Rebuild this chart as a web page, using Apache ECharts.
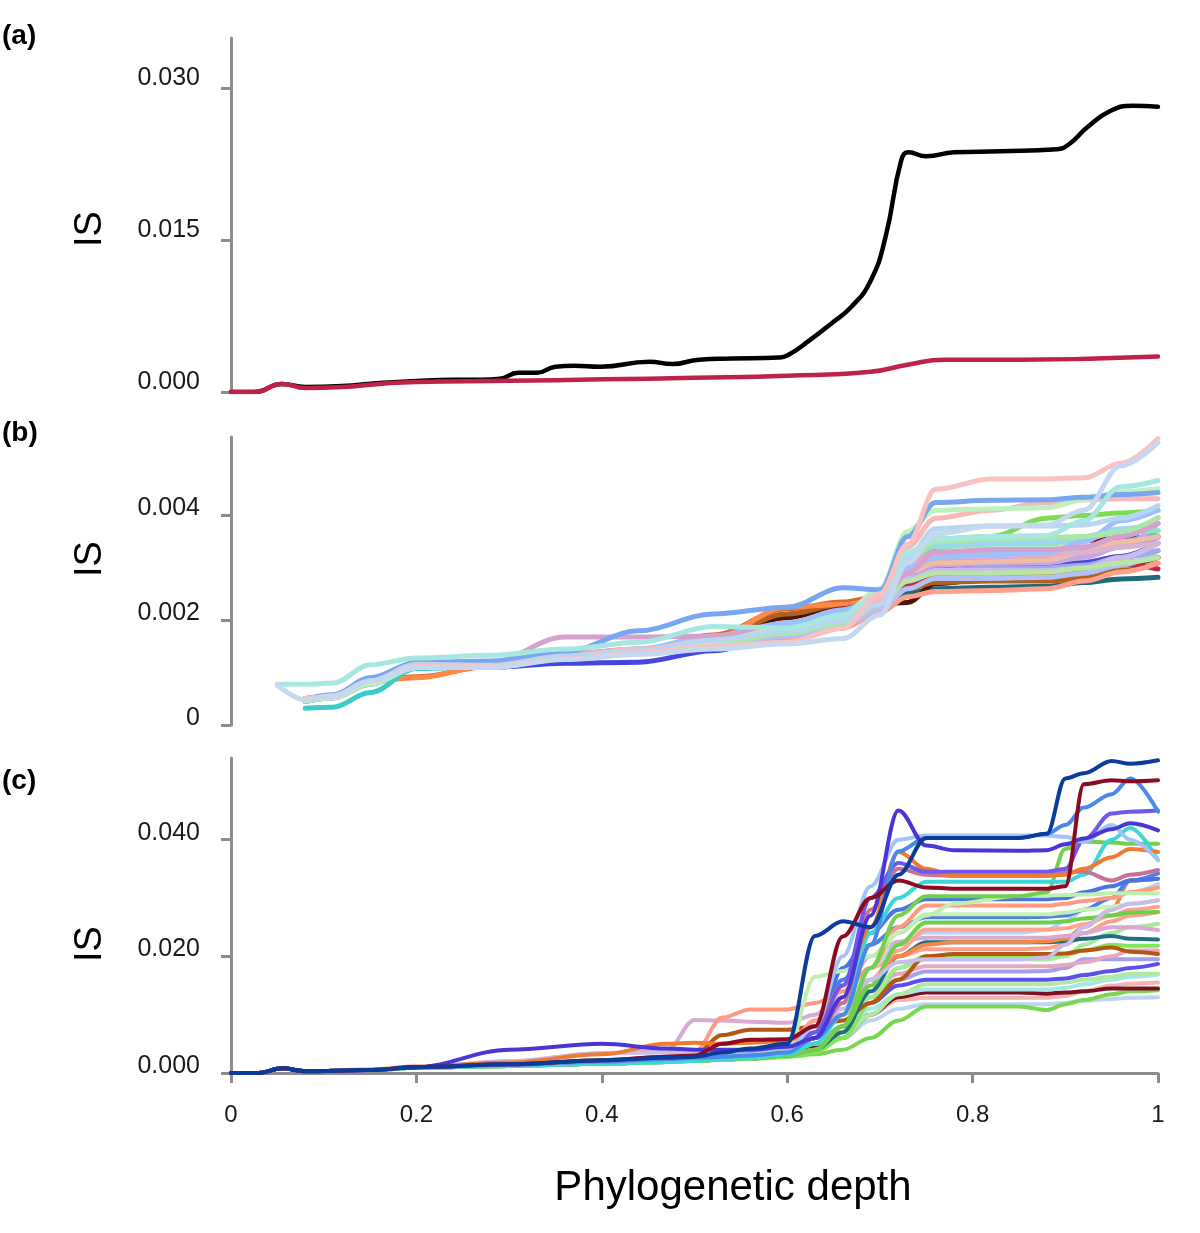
<!DOCTYPE html>
<html><head><meta charset="utf-8">
<script src="https://cdn.jsdelivr.net/npm/echarts@6/dist/echarts.min.js"></script>
<style>html,body{margin:0;padding:0;background:#fff}#chart{width:1200px;height:1233px}</style>
</head><body><div id="chart"></div>
<script>
// ---------------- Panel (a) ----------------
const aBlackX = [0,0.025,0.055,0.08,0.12,0.16,0.2,0.24,0.27,0.29,0.31,0.33,0.35,0.37,0.398,0.4515,0.476,0.505,0.54,0.591,0.600,0.624,0.648,0.669,0.69,0.706,0.723,0.731,0.75,0.78,0.83,0.891,0.904,0.924,0.949,0.973,1.0];
const aBlackY = [0,0,0.0008,0.0005,0.0006,0.0009,0.0011,0.0012,0.0012,0.0013,0.0019,0.0019,0.0025,0.0026,0.0025,0.0030,0.00276,0.0032,0.0033,0.0034,0.0036,0.0051,0.0068,0.0084,0.0110,0.0153,0.0229,0.0237,0.0233,0.0237,0.0238,0.0240,0.0245,0.0262,0.0278,0.0283,0.0282];
const aRedX = [0,0.025,0.055,0.08,0.12,0.16,0.2,0.3,0.4,0.5,0.6,0.69,0.73,0.77,0.85,1.0];
const aRedY = [0,0,0.0008,0.0004,0.0005,0.0008,0.001,0.0011,0.00125,0.0014,0.0016,0.002,0.0027,0.0032,0.0032,0.0035];
const aTicks = [0, 0.015, 0.030];

// ---------------- Panel (b) (values in units of 0.001) ----------------
const bX = [0.05,0.08,0.11,0.15,0.2,0.28,0.36,0.44,0.52,0.6,0.66,0.7,0.73,0.76,0.82,0.88,0.92,0.96,1.0];
const bTicks = [0, 0.002, 0.004];
const bTeal        = ['-',0.50,0.55,0.82,1.14,1.12,1.33,1.42,1.62,1.88,2.12,2.30,2.52,2.60,2.63,2.65,2.72,2.79,2.82];
const bDarkBrown   = ['-',0.50,0.55,0.82,1.14,1.12,1.35,1.44,1.66,2.05,2.28,2.32,2.34,2.70,2.80,2.82,2.90,3.05,3.20];
const bBrown       = ['-',0.50,0.55,0.82,1.14,1.12,1.33,1.42,1.64,2.12,2.30,2.42,2.60,2.72,2.75,2.75,2.80,2.95,3.09];
const bOrangeBrown = ['-',0.50,0.55,0.84,0.92,1.12,1.33,1.42,1.72,2.22,2.35,2.46,2.70,2.85,2.90,2.90,3.00,3.10,3.20];
const bOrange      = ['-',0.50,0.55,0.84,0.90,1.14,1.35,1.44,1.66,2.25,2.30,2.40,2.75,3.00,3.05,3.05,3.10,3.22,3.33];
const bDarkRed     = ['-',0.50,0.55,0.82,1.14,1.12,1.33,1.42,1.62,1.92,2.22,2.40,2.90,3.40,3.50,3.52,3.52,3.56,3.60];
const bCrimson     = ['-',0.50,0.55,0.82,1.14,1.12,1.33,1.42,1.62,1.88,2.10,2.35,2.70,2.90,2.92,2.95,3.00,3.08,2.98];
const bBlueDark    = ['-',0.45,0.52,0.80,1.10,1.10,1.18,1.20,1.42,1.80,2.05,2.30,2.80,3.00,3.01,3.05,3.10,3.22,3.47];
const bTealBright  = ['-',0.32,0.34,0.62,1.08,1.12,1.30,1.40,1.58,1.82,2.05,2.35,3.00,3.30,3.30,3.32,3.36,3.50,3.71];
const bGreen       = ['-',0.48,0.55,0.84,1.14,1.12,1.30,1.40,1.60,1.90,2.15,2.40,3.20,3.55,3.60,3.95,4.00,4.05,4.10];
const bSalmon      = ['-',0.48,0.54,0.80,1.12,1.12,1.30,1.40,1.52,1.62,1.85,2.15,2.45,2.55,2.57,2.60,2.75,2.92,3.09];
const bLavender    = ['-',0.48,0.54,0.80,1.12,1.10,1.30,1.40,1.58,1.80,2.00,2.35,2.95,3.15,3.20,3.20,3.25,3.40,3.58];
const bPeriwinkle  = ['-',0.46,0.52,0.78,1.10,1.10,1.28,1.38,1.55,1.70,1.90,2.20,2.60,2.80,2.80,2.82,2.90,3.05,3.33];
const bSoftIndigo  = ['-',0.46,0.52,0.78,1.10,1.10,1.27,1.36,1.55,1.78,2.00,2.30,2.75,2.95,3.00,3.00,3.05,3.20,3.33];
const bLightPurple = ['-',0.50,0.55,0.84,1.16,1.14,1.33,1.44,1.65,1.90,2.10,2.35,2.90,3.05,3.09,3.10,3.20,3.40,3.85];
const bLilac       = ['-',0.48,0.54,0.80,1.12,1.12,1.32,1.40,1.60,1.78,1.95,2.25,2.80,2.95,2.95,2.95,3.00,3.20,3.47];
const bPeach       = ['-',0.48,0.54,0.82,1.12,1.14,1.32,1.42,1.60,1.75,1.95,2.30,2.90,3.10,3.12,3.15,3.30,3.50,3.60];
const bDustyPink   = ['-',0.50,0.55,0.84,1.16,1.14,1.32,1.42,1.60,1.80,2.00,2.40,3.00,3.20,3.22,3.25,3.30,3.40,3.47];
const bRose        = ['-',0.50,0.55,0.84,1.16,1.18,1.36,1.45,1.62,1.82,2.05,2.40,3.10,3.30,3.33,3.35,3.40,3.60,3.96];
const bMint        = ['-',0.48,0.54,0.82,1.14,1.12,1.30,1.42,1.62,1.90,2.15,2.50,3.20,3.40,3.45,3.45,3.55,3.70,3.71];
const bLightGreen3 = ['-',0.48,0.54,0.82,1.14,1.12,1.30,1.40,1.60,1.85,2.05,2.30,2.75,2.90,2.90,2.92,3.00,3.10,3.20];
const bLightSky    = ['-',0.48,0.54,0.82,1.14,1.12,1.30,1.42,1.60,1.85,2.10,2.50,3.30,3.45,3.47,3.50,3.60,3.75,3.85];
const bSky         = ['-',0.50,0.55,0.84,1.16,1.14,1.32,1.45,1.70,1.95,2.20,2.45,3.00,3.20,3.25,3.30,3.50,3.90,4.10];
const bLightGreen2 = ['-',0.46,0.52,0.78,1.10,1.10,1.27,1.36,1.55,1.75,1.95,2.30,3.20,3.50,3.55,3.58,3.60,3.70,3.96];
const bMauve       = ['-',0.50,0.55,0.84,1.16,1.20,1.68,1.68,1.70,1.85,2.05,2.30,2.90,3.30,3.35,3.35,3.40,3.60,3.85];
const bPink2       = ['-',0.50,0.56,0.86,1.16,1.15,1.32,1.45,1.62,1.80,2.05,2.40,3.40,3.95,4.10,4.25,4.30,4.32,4.32];
const bLightGreen  = ['-',0.46,0.52,0.80,1.10,1.12,1.28,1.40,1.60,1.85,2.10,2.60,3.70,4.10,4.13,4.15,4.30,4.45,4.51];
const bBlue        = ['-',0.50,0.58,0.90,1.20,1.22,1.40,1.80,2.12,2.25,2.62,2.58,3.60,4.25,4.29,4.30,4.35,4.40,4.44];
const bThickBlue   = ['-',0.50,0.55,0.84,1.16,1.14,1.32,1.42,1.62,1.80,2.00,2.30,3.20,3.75,3.80,3.80,3.82,3.95,4.19];
const bLightCyan   = [0.78,0.78,0.80,1.15,1.28,1.33,1.45,1.58,1.88,1.85,2.10,2.50,3.30,3.55,3.60,3.62,3.90,4.55,4.67];
const bPink        = ['-',0.50,0.55,0.84,1.12,1.12,1.26,1.38,1.50,1.58,1.85,2.50,3.45,4.50,4.70,4.70,4.72,5.00,5.47];
const bBlueGray    = [0.76,0.48,0.56,0.84,1.10,1.10,1.25,1.35,1.45,1.55,1.65,2.10,3.10,3.65,3.80,3.82,4.10,4.95,5.39];

// ---------------- Panel (c) (values in units of 0.001) ----------------
const cX = [0,0.03,0.055,0.08,0.15,0.2,0.3,0.4,0.47,0.5,0.53,0.56,0.6,0.63,0.66,0.69,0.72,0.75,0.78,0.85,0.88,0.9,0.92,0.95,0.97,1.0];
const cTicks = [0, 0.020, 0.040];
const cLightBlueLow = [0,0,0.8,0.3,0.5,1.0,1.4,2.0,2.4,2.6,2.8,3.0,3.5,4.5,6.0,9.0,11.0,11.8,11.8,11.8,11.8,12.0,12.4,12.7,12.9,13.0];
const cGreenLow     = [0,0,0.8,0.3,0.5,0.9,1.2,1.6,1.9,2.1,2.3,2.4,2.8,3.2,4.0,6.0,9.0,11.4,11.4,11.4,10.8,11.8,12.5,13.5,14.0,14.2];
const cPink         = [0,0,0.8,0.3,0.5,1.0,1.4,2.0,2.4,2.8,3.0,3.2,3.8,5.0,7.0,10.0,12.5,12.9,12.9,12.9,12.9,13.2,14.0,15.0,15.3,15.5];
const cDarkRed2     = [0,0,0.8,0.3,0.5,1.0,1.4,2.0,2.4,2.8,3.0,3.2,3.6,4.5,6.0,10.0,13.0,13.8,13.8,13.8,13.6,13.8,14.0,14.5,14.5,14.5];
const cLightCyan    = [0,0,0.8,0.3,0.5,1.0,1.4,2.0,2.4,2.8,3.0,3.2,3.8,5.0,7.0,11.0,13.5,14.3,14.3,14.3,14.3,14.6,15.2,16.0,16.5,16.9];
const cLightGreen2  = [0,0,0.8,0.3,0.5,0.9,1.2,1.6,1.9,2.1,2.3,2.5,3.0,4.0,6.0,10.0,13.5,15.2,15.2,15.2,15.2,15.5,16.0,16.5,17.0,17.0];
const cPurpleBlue   = [0,0,0.8,0.3,0.5,1.0,1.4,2.0,2.4,2.8,3.0,3.2,3.8,5.0,8.0,12.0,15.0,16.0,16.0,16.0,16.0,16.2,16.8,17.5,18.0,18.7];
const cLavender     = [0,0,0.8,0.3,0.5,1.0,1.4,2.0,2.4,2.8,3.0,3.2,3.6,5.0,8.0,13.0,16.0,17.4,17.4,17.4,17.5,18.0,19.5,19.5,19.5,19.5];
const cPinkMauve    = [0,0,0.8,0.3,0.5,1.0,1.4,2.0,2.4,2.8,3.0,3.2,4.0,6.0,10.0,14.0,17.0,18.3,18.3,18.3,18.3,18.5,19.0,20.0,21.0,21.0];
const cBrightGreen  = [0,0,0.8,0.3,0.5,0.9,1.2,1.6,1.9,2.1,2.3,2.5,2.8,3.5,6.0,12.0,18.0,20.0,20.0,20.0,20.0,20.2,21.0,22.0,21.8,21.8];
const cLightGreen3  = [0,0,0.8,0.3,0.5,0.9,1.2,1.6,1.9,2.1,2.3,2.5,3.0,4.0,7.0,13.0,18.0,19.5,19.5,19.5,19.5,20.0,22.0,24.0,25.0,25.6];
const cBrown        = [0,0,0.8,0.3,0.5,1.0,1.5,2.1,2.8,3.2,6.5,7.4,7.4,8.0,9.0,12.0,16.0,20.0,20.4,20.4,20.4,20.5,21.0,21.5,20.8,20.4];
const cSalmon3      = [0,0,0.8,0.3,0.5,1.0,1.4,2.0,2.4,2.8,3.0,3.4,4.5,9.0,12.0,18.0,20.0,21.2,21.2,21.2,21.4,22.0,24.0,26.0,27.0,27.6];
const cDarkTeal     = [0,0,0.8,0.3,0.5,0.9,1.2,1.6,1.9,2.1,2.3,2.5,3.0,4.0,7.0,14.0,20.0,22.4,22.4,22.4,22.4,22.6,23.0,23.5,23.0,22.9];
const cOrange2      = [0,0,0.8,0.3,0.5,1.0,1.4,2.0,2.4,2.8,3.0,3.2,4.0,6.0,10.0,16.0,20.0,22.0,22.4,22.4,22.6,23.0,25.0,28.0,33.0,33.3];
const cMauve        = [0,0,0.8,0.3,0.5,1.0,2.0,3.4,3.8,9.1,9.0,8.8,8.6,10.0,14.0,20.0,22.5,23.2,23.2,23.2,23.2,23.5,24.0,25.0,25.0,24.5];
const cBlueGray     = [0,0,0.8,0.3,0.5,1.0,1.4,2.0,2.4,2.8,3.0,3.2,3.8,6.0,12.0,18.0,22.0,24.1,24.1,24.1,24.5,26.0,28.0,30.0,31.0,32.4];
const cSalmon       = [0,0,0.8,0.3,0.5,1.0,1.4,2.0,2.4,2.8,3.0,3.4,4.5,9.0,13.0,16.0,21.0,24.6,24.6,24.6,24.6,24.8,25.5,27.0,28.0,28.5];
const cGreenMid     = [0,0,0.8,0.3,0.5,0.9,1.2,1.6,1.9,2.1,2.3,2.5,3.0,4.0,8.0,15.0,22.0,25.8,25.8,25.8,25.8,26.0,26.5,27.0,27.5,27.6];
const cBlue2        = [0,0,0.8,0.3,0.5,1.0,1.4,2.0,2.4,2.6,2.8,3.0,3.5,7.0,16.0,22.0,25.0,26.7,26.7,26.7,26.8,27.0,28.0,30.0,33.0,34.2];
const cLightGreen4  = [0,0,0.8,0.3,0.5,0.9,1.2,1.6,1.9,2.1,2.4,2.6,3.2,5.0,10.0,18.0,24.0,27.2,27.2,27.2,27.2,27.5,28.0,28.5,29.0,29.6];
const cCoral        = [0,0,0.8,0.3,0.5,1.0,1.5,2.1,2.8,3.5,9.5,10.9,10.9,12.0,14.0,18.0,25.0,28.7,28.7,28.7,28.7,29.0,29.5,30.0,31.0,31.8];
const cLilac        = [0,0,0.8,0.3,0.5,1.0,2.0,3.4,3.5,3.5,3.6,3.6,4.0,6.0,11.0,16.0,19.0,19.5,19.5,19.5,19.8,22.0,25.0,28.0,29.0,29.6];
const cBlue3        = [0,0,0.8,0.3,0.5,1.0,1.4,2.0,2.4,2.8,3.0,3.2,3.8,6.0,18.0,24.0,28.0,29.8,29.8,29.8,29.8,30.0,31.0,32.0,33.0,33.3];
const cLightGreen   = [0,0,0.8,0.3,0.5,0.9,1.2,1.6,1.9,2.1,2.3,2.5,4.0,16.5,17.5,20.0,24.0,27.0,29.0,30.4,30.4,30.5,30.6,30.8,30.8,30.8];
const cGreen        = [0,0,0.8,0.3,0.5,0.9,1.2,1.6,1.9,2.1,2.3,2.5,3.0,4.0,8.0,18.0,27.0,30.3,30.3,30.3,31.0,38.4,39.7,39.5,39.3,39.3];
const cCyan         = [0,0,0.8,0.3,0.5,0.9,1.2,1.6,1.9,2.1,2.4,2.6,3.2,5.0,10.0,24.0,30.0,32.8,32.8,32.8,32.8,32.8,34.0,40.0,42.0,36.5];
const cRose         = [0,0,0.8,0.3,0.5,1.0,1.4,2.0,2.4,2.8,3.0,3.2,3.8,6.0,12.0,28.0,35.0,34.0,33.8,33.8,33.8,34.5,34.5,33.0,34.0,34.8];
const cOrange       = [0,0,0.8,0.3,0.6,1.1,1.8,3.2,5.0,5.2,5.0,5.2,5.5,8.0,15.0,25.0,37.9,35.0,33.8,33.8,33.8,34.0,35.0,37.0,38.4,37.9];
const cPurple       = [0,0,0.8,0.3,0.5,1.0,1.4,2.0,2.4,2.8,3.0,3.2,4.0,7.0,15.0,30.0,36.0,34.5,34.5,34.5,34.5,35.0,40.0,44.5,44.8,45.0];
const cLightBlue    = [0,0,0.8,0.3,0.5,1.0,1.4,2.0,2.4,2.8,3.0,3.2,4.0,8.0,20.0,32.0,40.0,40.7,40.7,40.7,40.7,40.5,39.6,42.5,40.0,36.5];
const cBlue         = [0,0,0.8,0.3,0.5,1.0,1.4,2.0,2.4,2.6,2.8,3.0,3.5,6.0,10.0,22.0,38.0,40.3,40.3,40.3,41.0,42.5,45.5,47.8,50.5,44.8];
const cIndigo       = [0,0,0.8,0.3,0.5,1.0,4.0,5.0,4.2,4.0,4.0,4.0,4.5,6.0,13.0,27.0,45.0,39.0,38.2,38.1,38.2,39.2,40.2,41.8,42.8,41.6];
const cDarkRed      = [0,0,0.8,0.3,0.5,1.0,1.5,2.2,2.8,3.0,5.0,5.7,5.8,8.0,23.4,30.0,33.0,31.8,31.6,31.6,31.6,32.0,49.5,50.2,50.0,50.2];
const cNavy         = [0,0,0.8,0.3,0.5,1.0,1.5,2.2,2.6,2.8,3.5,4.2,5.0,23.5,26.0,25.0,34.0,40.3,40.3,40.3,41.0,50.5,51.4,53.5,53.0,53.6];
const xTicks = [0, 0.2, 0.4, 0.6, 0.8, 1];

// ---------------- build ----------------
const bSeriesList = [
  [bTeal,'#1f6b7b'],[bDarkBrown,'#4b160a'],[bBrown,'#b0601f'],[bOrangeBrown,'#d8692a'],[bOrange,'#ff8a48'],
  [bDarkRed,'#8a1020'],[bCrimson,'#c0284a'],[bBlueDark,'#4646de'],[bTealBright,'#3ccaca'],[bGreen,'#7edb58'],
  [bSalmon,'#ffa08c'],[bLavender,'#9c9ce8'],[bPeriwinkle,'#b2c2f6'],[bSoftIndigo,'#a2a8f0'],[bLightPurple,'#c4a8e4'],
  [bLilac,'#cabce8'],[bPeach,'#f2bca4'],[bDustyPink,'#dcb2d2'],[bRose,'#eaa6b8'],[bMint,'#94e2c4'],
  [bLightGreen3,'#b8e6a4'],[bLightSky,'#9cd6f2'],[bSky,'#9ec0fc'],[bLightGreen2,'#a8e8a8'],[bMauve,'#d4a2cc'],
  [bPink2,'#f6b8b8'],[bLightGreen,'#bff0bf'],[bBlue,'#78a6f0'],[bThickBlue,'#b6d6f2'],[bLightCyan,'#a8e6e2'],
  [bPink,'#f9c2c2'],[bBlueGray,'#c4d8f0']
];
const cSeriesList = [
  [cLightBlueLow,'#bcd6f2'],[cGreenLow,'#78d650'],[cPink,'#f4b4b4'],[cDarkRed2,'#7a1020'],[cLightCyan,'#a6e6e4'],
  [cLightGreen2,'#b0eaa0'],[cPurpleBlue,'#5a50f0'],[cLavender,'#a4a0ec'],[cPinkMauve,'#e6a8c0'],[cBrightGreen,'#80e858'],
  [cLightGreen3,'#a8e898'],[cBrown,'#b35814'],[cSalmon3,'#fca08c'],[cDarkTeal,'#1e7080'],[cOrange2,'#f48848'],
  [cMauve,'#d9a9d1'],[cBlueGray,'#b8d0f2'],[cSalmon,'#ffa490'],[cGreenMid,'#6cd048'],[cBlue2,'#4f7fe8'],
  [cLightGreen4,'#c6f2b4'],[cCoral,'#ff9a80'],[cLilac,'#c8bce8'],[cBlue3,'#4a74e6'],[cLightGreen,'#bdf0b0'],
  [cGreen,'#72d04a'],[cCyan,'#3ed6d6'],[cRose,'#c8709a'],[cOrange,'#f07a30'],[cPurple,'#7058ec'],
  [cLightBlue,'#a2c4f4'],[cBlue,'#4a8ae6'],[cIndigo,'#4a36d4'],[cDarkRed,'#8b0c22'],[cNavy,'#0b3b9b']
];

function lineSeries(xs, ys, scale, color, width, idx, smooth, mono) {
  const s = {
    type: 'line', xAxisIndex: idx, yAxisIndex: idx,
    data: xs.map((x, i) => [x, ys[i] === '-' ? '-' : ys[i] * scale]),
    showSymbol: false, symbol: 'none', smooth: smooth,
    lineStyle: { color: color, width: width, cap: 'round', join: 'round' },
    itemStyle: { color: color }, silent: true, animation: false
  };
  if (mono) s.smoothMonotone = 'x';
  return s;
}

const series = [];
series.push(lineSeries(aBlackX, aBlackY, 1, '#000000', 4.5, 0, 0.5, false));
series.push(lineSeries(aRedX, aRedY, 1, '#bf2249', 4.5, 0, 0.5, false));
bSeriesList.forEach(s => series.push(lineSeries(bX, s[0], 0.001, s[1], 5, 1, 0.35, true)));
cSeriesList.forEach(s => series.push(lineSeries(cX, s[0], 0.001, s[1], 4, 2, 0.35, true)));

const gray = '#8c8c8c';
const font = '"Liberation Sans", Arial, Helvetica, sans-serif';
function yAxis(idx, max, ticks, fmt) {
  return {
    type: 'value', gridIndex: idx, min: 0, max: max,
    axisLine: { show: true, lineStyle: { color: gray, width: 3 } },
    axisTick: { show: true, length: 10, customValues: ticks, lineStyle: { color: gray, width: 3 } },
    axisLabel: { customValues: ticks, formatter: fmt, fontSize: 25, fontFamily: font, color: '#1a1a1a',
                 margin: 31, verticalAlign: 'bottom', lineHeight: idx === 0 ? 20 : 14 },
    splitLine: { show: false }
  };
}
function xAxis(idx, show) {
  return {
    type: 'value', gridIndex: idx, min: 0, max: 1, show: show,
    axisLine: { show: true, onZero: false, lineStyle: { color: gray, width: 3 } },
    axisTick: { show: true, length: 10, customValues: xTicks, lineStyle: { color: gray, width: 3 } },
    axisLabel: { customValues: xTicks, formatter: v => String(v), fontSize: 24, fontFamily: font, color: '#1a1a1a', margin: 30 },
    splitLine: { show: false }
  };
}

const option = {
  backgroundColor: '#ffffff',
  animation: false,
  grid: [
    { left: 231, right: 42, top: 38, height: 354, containLabel: false },
    { left: 231, right: 42, top: 437, height: 288, containLabel: false },
    { left: 231, right: 42, top: 758, height: 315, containLabel: false }
  ],
  xAxis: [xAxis(0, false), xAxis(1, false), xAxis(2, true)],
  yAxis: [
    yAxis(0, 0.035, aTicks, v => v.toFixed(3)),
    yAxis(1, 0.0055, bTicks, v => v === 0 ? '0' : v.toFixed(3)),
    yAxis(2, 0.054, cTicks, v => v.toFixed(3))
  ],
  graphic: [
    { type: 'text', x: 2, y: 36, style: { text: '(a)', font: 'bold 28px ' + font, fill: '#000', align: 'left', verticalAlign: 'middle' } },
    { type: 'text', x: 2, y: 433, style: { text: '(b)', font: 'bold 28px ' + font, fill: '#000', align: 'left', verticalAlign: 'middle' } },
    { type: 'text', x: 2, y: 781, style: { text: '(c)', font: 'bold 28px ' + font, fill: '#000', align: 'left', verticalAlign: 'middle' } },
    { type: 'text', x: 91, y: 229, rotation: Math.PI / 2, style: { text: 'IS', font: '38px ' + font, fill: '#000', align: 'center', verticalAlign: 'middle' } },
    { type: 'text', x: 91, y: 559, rotation: Math.PI / 2, style: { text: 'IS', font: '38px ' + font, fill: '#000', align: 'center', verticalAlign: 'middle' } },
    { type: 'text', x: 91, y: 944, rotation: Math.PI / 2, style: { text: 'IS', font: '38px ' + font, fill: '#000', align: 'center', verticalAlign: 'middle' } },
    { type: 'text', x: 733, y: 1188, style: { text: 'Phylogenetic depth', font: '42px ' + font, fill: '#000', align: 'center', verticalAlign: 'middle' } }
  ],
  series: series
};

const chart = echarts.init(document.getElementById('chart'), null, { renderer: 'canvas' });
chart.setOption(option);
</script></body></html>
